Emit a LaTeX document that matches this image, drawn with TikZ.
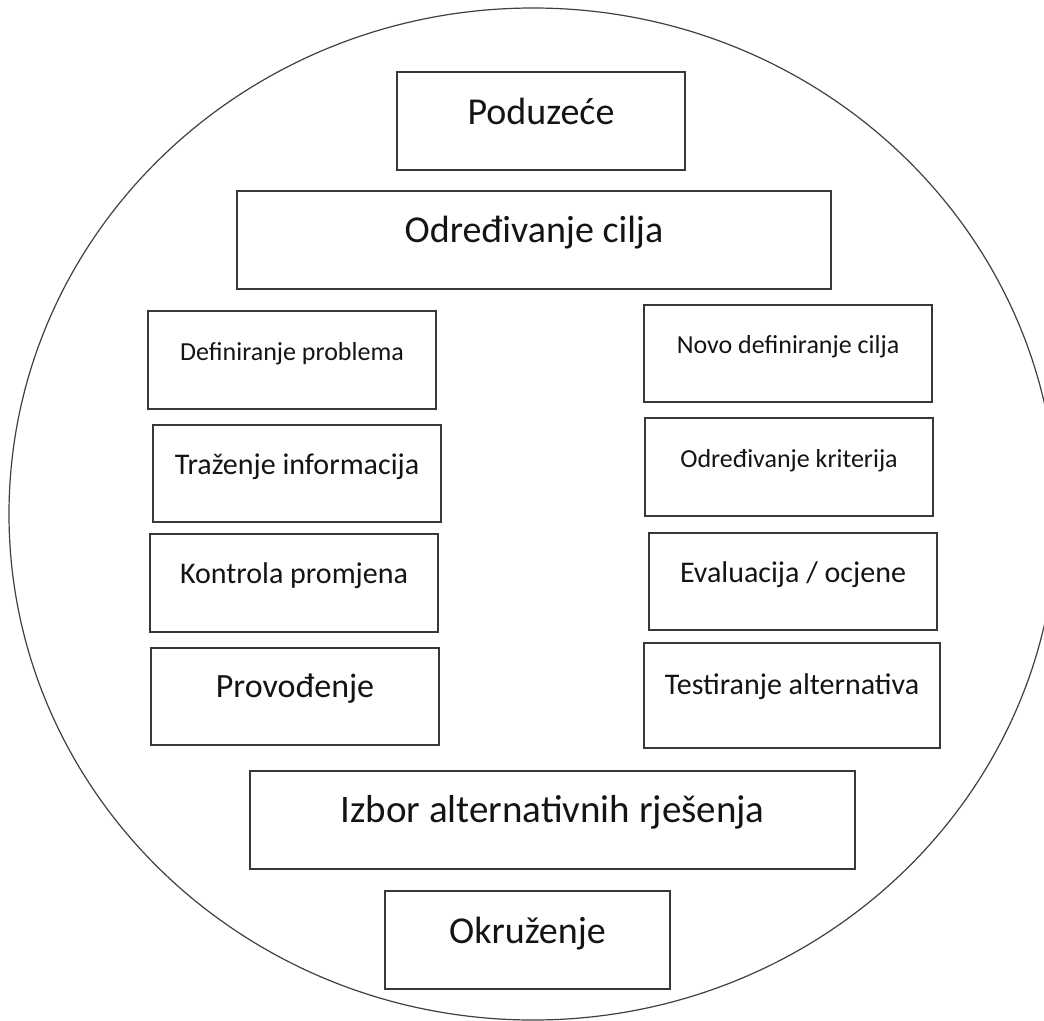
\documentclass[tikz,border=0pt]{standalone}
\usepackage{fontspec}
\setmainfont{Carlito}
\usetikzlibrary{shapes.geometric}
\newcommand\mybx[8]{%
  \node[boxst, minimum width={(#4-#2)*1pt}, minimum height={(#5-#3)*1pt}] (#1) at ({(#2+#4)/2},{(#3+#5)/2}) {};
  \node[lbl, font=\fontsize{#6}{#6}\selectfont] (#1t) at ({(#2+#4)/2},#7) {#8};}
\begin{document}
\begin{tikzpicture}[x=1pt,y=-1pt,
  boxst/.style={draw=black!78, line width=1.5pt, inner sep=0pt, outer sep=0pt, rectangle},
  lbl/.style={anchor=base, inner sep=0pt, outer sep=0pt, text=black!92},
  envst/.style={draw=black!75, line width=1.2pt, ellipse, inner sep=0pt, outer sep=0pt}]
\useasboundingbox (0,0) rectangle (1044,1020);
\fill[white] (0,0) rectangle (1044,1020);
\node[envst, minimum width=1048pt, minimum height=1012pt] (env) at (533,514) {};
\mybx{pod}{397}{72}{685}{170}{38}{124}{Poduzeće}
\mybx{cilj}{237}{191}{831}{289}{38}{242}{Određivanje cilja}
\mybx{defp}{148}{311}{436}{409}{26}{360}{Definiranje problema}
\mybx{traz}{153}{425}{441}{522}{30}{474}{Traženje informacija}
\mybx{kont}{150}{534}{438}{632}{30}{583}{Kontrola promjena}
\mybx{prov}{151}{648}{439}{745}{34}{697}{Provođenje}
\mybx{novo}{644}{305}{932}{402}{26}{353}{Novo definiranje cilja}
\mybx{krit}{645}{418}{933}{516}{26}{467}{Određivanje kriterija}
\mybx{eval}{649}{533}{937}{630}{30}{582}{Evaluacija / ocjene}
\mybx{test}{644}{643}{940}{748}{30}{694}{Testiranje alternativa}
\mybx{izbor}{250}{771}{855}{869}{39}{822}{Izbor alternativnih rješenja}
\mybx{okr}{385}{891}{670}{989}{38}{943}{Okruženje}
\end{tikzpicture}
\end{document}
